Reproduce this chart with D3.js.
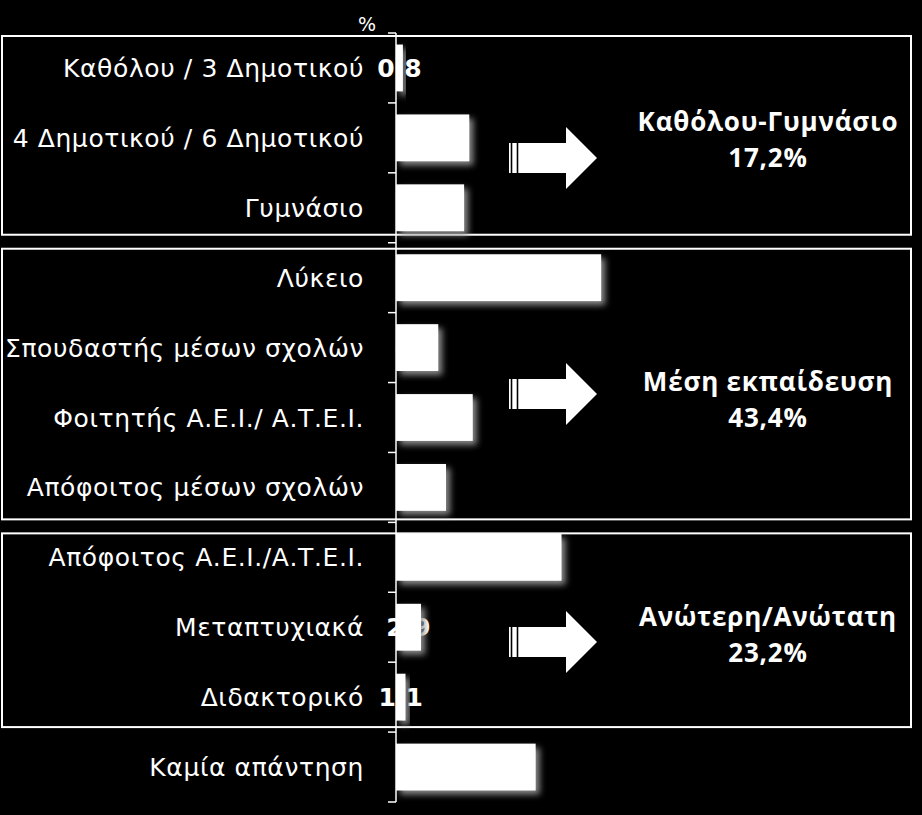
<!DOCTYPE html>
<html lang="el">
<head>
    <meta charset="UTF-8">
    <title>Εκπαίδευση</title>
    <script src="https://cdnjs.cloudflare.com/ajax/libs/d3/7.8.5/d3.min.js"></script>
    <style>
        body {
            margin: 0;
            background: #000;
        }
        svg {
            display: block;
            font-family: "DejaVu Sans", sans-serif;
        }
    </style>
</head>
<body>
    <div id="chart"></div>

    <script>
        // Categories and values (%)
        const categories = [
            "Καθόλου / 3 Δημοτικού",
            "4 Δημοτικού / 6 Δημοτικού",
            "Γυμνάσιο",
            "Λύκειο",
            "Σπουδαστής μέσων σχολών",
            "Φοιτητής Α.Ε.Ι./ Α.Τ.Ε.Ι.",
            "Απόφοιτος μέσων σχολών",
            "Απόφοιτος Α.Ε.Ι./Α.Τ.Ε.Ι.",
            "Μεταπτυχιακά",
            "Διδακτορικό",
            "Καμία απάντηση"
        ];
        const values = [0.8, 8.5, 7.9, 23.8, 4.9, 8.9, 5.8, 19.2, 2.9, 1.1, 16.2];

        // Groups: first/last category index, title, total
        const groupTitles = ["Καθόλου-Γυμνάσιο", "Μέση εκπαίδευση", "Ανώτερη/Ανώτατη"];
        const groupTotals = ["17,2%", "43,4%", "23,2%"];
        const groupFirst = [0, 3, 7];
        const groupLast = [2, 6, 9];

        const width = 922, height = 815;

        const svg = d3.select("#chart")
            .append("svg")
            .attr("width", width)
            .attr("height", height);

        svg.append("rect").attr("width", width).attr("height", height).attr("fill", "#000");

        // glow behind the bars
        const defs = svg.append("defs");
        const glow = defs.append("filter").attr("id", "glow")
            .attr("x", "-20%").attr("y", "-30%").attr("width", "160%").attr("height", "170%");
        glow.append("feDropShadow")
            .attr("dx", 4).attr("dy", 4)
            .attr("stdDeviation", 3)
            .attr("flood-color", "#9a9a9a")
            .attr("flood-opacity", 0.9);

        const x = d3.scaleLinear().domain([0, 60]).range([396, 396 + 60 * 8.62]);
        const y = d3.scaleBand().domain(categories).range([33, 802]).paddingInner(0.33).paddingOuter(0.165);
        const step = y.step();
        const gap = (y.step() - y.bandwidth()) / 2;

        // group boxes (insets picked by eye)
        const boxInsets = [[3, 8], [6, 3], [11, 5]];
        groupTitles.forEach((t, i) => {
            const top = y(categories[groupFirst[i]]) - gap + boxInsets[i][0];
            const bottom = y(categories[groupLast[i]]) + y.bandwidth() + gap - boxInsets[i][1];
            svg.append("rect")
                .attr("x", 2).attr("y", top)
                .attr("width", 909).attr("height", bottom - top)
                .attr("fill", "none")
                .attr("stroke", "#fff")
                .attr("stroke-width", 2);
        });

        // y axis with ticks between categories
        svg.append("line")
            .attr("x1", x(0)).attr("x2", x(0))
            .attr("y1", y.range()[0]).attr("y2", y.range()[1])
            .attr("stroke", "#fff").attr("stroke-width", 1.5);
        const tickYs = d3.range(categories.length + 1).map(i => y.range()[0] + i * step);
        svg.append("g").selectAll("line")
            .data(tickYs)
            .join("line")
            .attr("x1", x(0) - 8).attr("x2", x(0))
            .attr("y1", d => d).attr("y2", d => d)
            .attr("stroke", "#fff").attr("stroke-width", 1.5);

        // category labels
        svg.append("g").selectAll("text")
            .data(categories)
            .join("text")
            .attr("x", 364)
            .attr("y", d => y(d) + y.bandwidth() / 2)
            .attr("dy", "0.36em")
            .attr("text-anchor", "end")
            .attr("fill", "#fff")
            .attr("font-size", "25px")
            .attr("letter-spacing", "0.6px")
            .text(d => d);

        svg.append("text")
            .attr("x", 367).attr("y", 31)
            .attr("text-anchor", "middle")
            .attr("fill", "#fff")
            .attr("font-size", "19px")
            .text("%");

        // value labels sit under the bars (mostly hidden by them)
        svg.append("g").selectAll("text")
            .data(values)
            .join("text")
            .attr("x", d => (x(0) + x(d)) / 2)
            .attr("y", (d, i) => y(categories[i]) + y.bandwidth() / 2)
            .attr("dy", "0.36em")
            .attr("text-anchor", "middle")
            .attr("fill", "#fff")
            .attr("font-weight", "bold")
            .attr("font-size", "25px")
            .text(d => d.toFixed(1).replace(".", ","));

        // bars
        svg.append("g").selectAll("rect")
            .data(values)
            .join("rect")
            .attr("x", x(0))
            .attr("y", (d, i) => y(categories[i]))
            .attr("width", d => x(d) - x(0))
            .attr("height", y.bandwidth())
            .attr("fill", "#fff")
            .attr("filter", "url(#glow)");

        // arrows and group summaries
        const arrowY = [158, 394, 642];
        const titleY = [122, 382, 617];
        arrowY.forEach((cy, i) => {
            const g = svg.append("g").attr("fill", "#fff");
            g.append("rect").attr("x", 509).attr("y", cy - 15).attr("width", 1.7).attr("height", 30);
            g.append("rect").attr("x", 512.3).attr("y", cy - 15).attr("width", 4.4).attr("height", 30);
            g.append("path").attr("d",
                `M518.3,${cy - 15} H566 V${cy - 31} L597,${cy} L566,${cy + 31} V${cy + 15} H518.3 Z`);

            [groupTitles[i], groupTotals[i]].forEach((txt, k) => {
                svg.append("text")
                    .attr("x", 768).attr("y", titleY[i] + k * 36)
                    .attr("dy", "0.36em")
                    .attr("text-anchor", "middle")
                    .attr("fill", "#fff")
                    .attr("font-family", "'Open Sans', sans-serif")
                    .attr("font-weight", 700)
                    .attr("font-size", "26px")
                    .attr("letter-spacing", "0.8px")
                    .text(txt);
            });
        });
    </script>
</body>
</html>
